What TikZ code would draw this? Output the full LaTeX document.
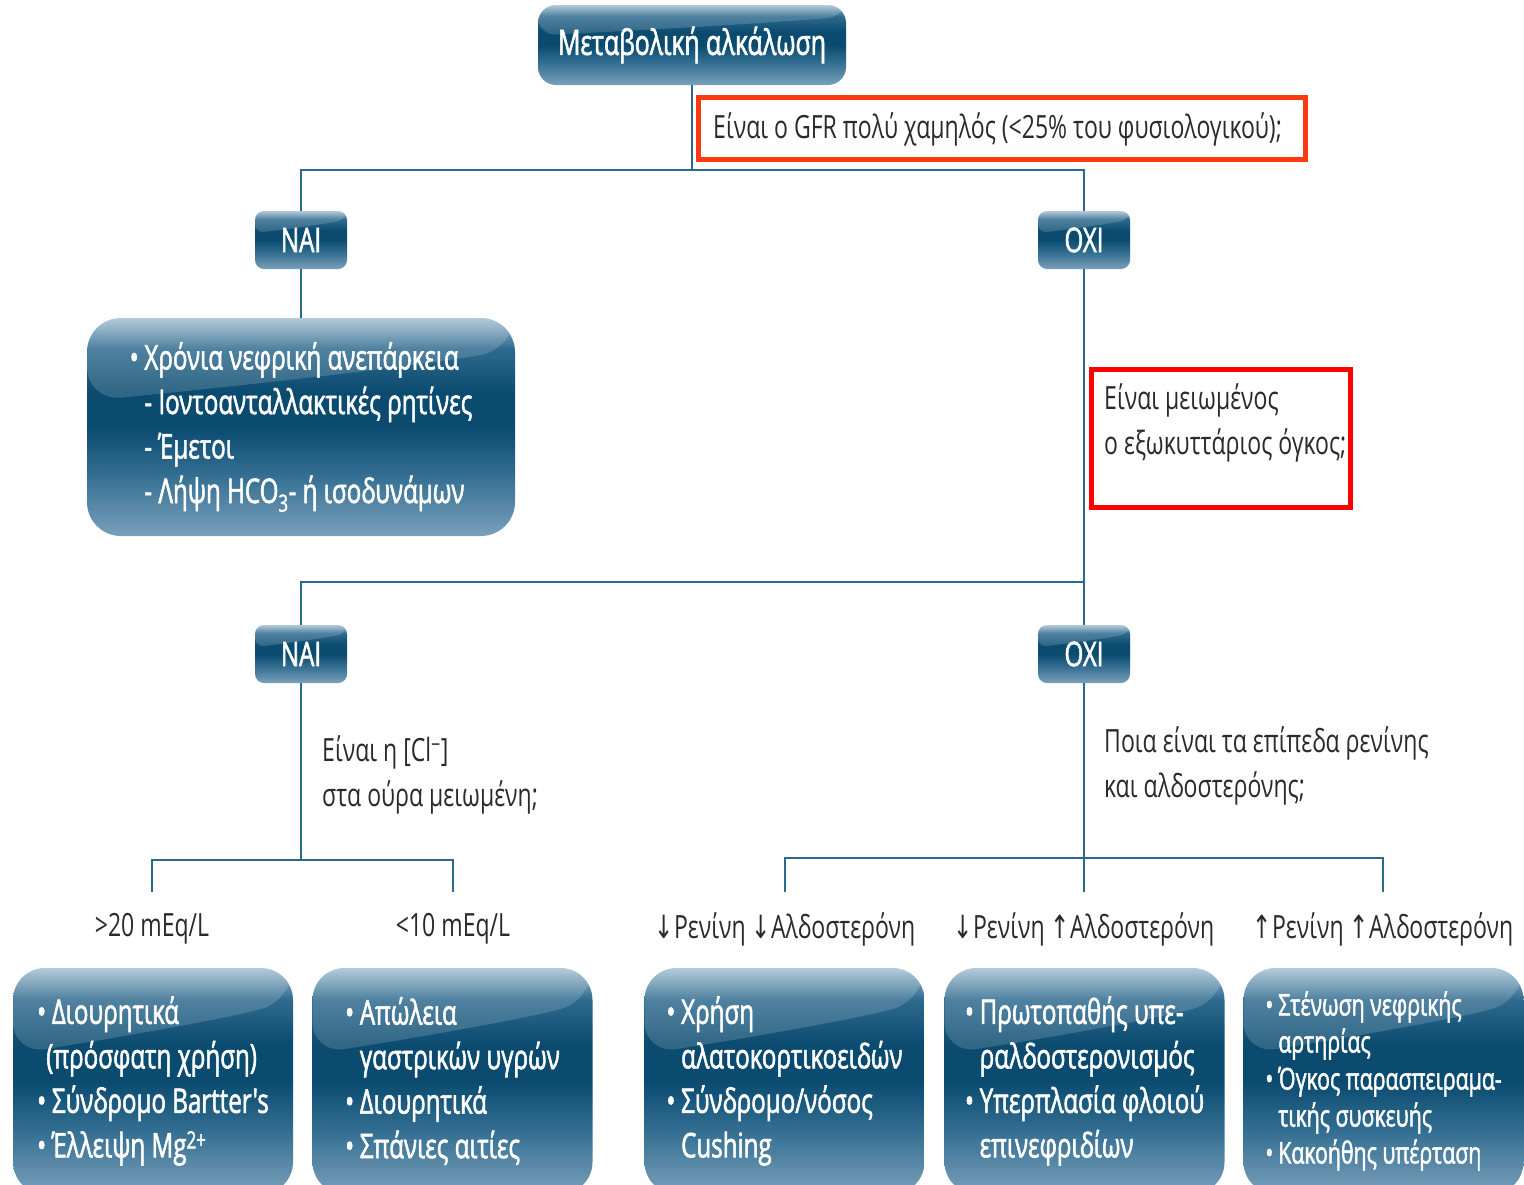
\documentclass[tikz,border=0pt]{standalone}
\usepackage{fontspec}
\setmainfont{Open Sans}[FakeStretch=0.72]
\newfontfamily\boxfont{Open Sans}[FakeStretch=0.71,FakeBold=1.6]
\newfontfamily\arrowfont{DejaVu Sans}[FakeStretch=0.72]
\usetikzlibrary{calc}
\definecolor{conn}{HTML}{2B6A8D}
\definecolor{qtext}{HTML}{2A2A2A}
\definecolor{redA}{HTML}{FF3A10}
\definecolor{redB}{HTML}{FF0000}
\definecolor{sb}{HTML}{7AA0BA}
\definecolor{s1}{HTML}{2F6B8F}
\definecolor{sd}{HTML}{0A4B6F}
\definecolor{s3}{HTML}{2E6A8E}
\definecolor{st}{HTML}{A6C1D4}
\pgfdeclareverticalshading{boxshade}{100bp}{color(0bp)=(sb); color(25bp)=(sb); color(40bp)=(s1); color(50bp)=(sd); color(58bp)=(sd); color(68bp)=(s3); color(75bp)=(st); color(100bp)=(st)}
\begin{document}
\begin{tikzpicture}[x=1pt,y=-1pt,
  conn/.style={draw=conn,line width=2.4pt},
  gbox/.style={shading=boxshade,text=white,align=left,inner sep=0pt,
    path picture={
      \fill[white,fill opacity=0.16] (path picture bounding box.north west)
        -- ($(path picture bounding box.north west)!0.38!(path picture bounding box.south west)$)
        .. controls ($(path picture bounding box.north west)!0.32!(path picture bounding box.south east)$)
        and ($(path picture bounding box.north east)!0.22!(path picture bounding box.south west)$)
        .. ($(path picture bounding box.north east)!0.14!(path picture bounding box.south east)$)
        -- (path picture bounding box.north east) -- cycle;}},
  smallbox/.style={gbox,rounded corners=9pt,minimum width=92pt,minimum height=58pt,font=\boxfont\fontsize{34}{40}\selectfont},
  bigbox/.style={gbox,rounded corners=32pt,minimum width=280pt,minimum height=226pt,font=\boxfont\fontsize{34}{44.5}\selectfont},
  qlabel/.style={text=qtext,align=left,inner sep=6pt,font=\fontsize{32}{45}\selectfont},
  vlabel/.style={text=qtext,inner sep=0pt,font=\fontsize{32}{40}\selectfont},
  redbox/.style={line width=5pt,inner sep=0pt}
]
\path[use as bounding box,fill=white] (0,0) rectangle (1524,1184);

% top
\node[gbox,rounded corners=18pt,minimum width=308pt,minimum height=80pt,font=\boxfont\fontsize{35}{40}\selectfont] (title) at (692,45) {Μεταβολική αλκάλωση};
\node[redbox,draw=redA,minimum width=607pt,minimum height=62pt] (q1box) at (1001.5,128) {};
\node[qlabel,anchor=west] (q1) at (707,129) {Είναι ο GFR πολύ χαμηλός (<25\% του φυσιολογικού);};

\node[smallbox] (nai1) at (301,240) {ΝΑΙ};
\node[smallbox] (oxi1) at (1084,240) {ΟΧΙ};

\node[gbox,rounded corners=34pt,minimum width=428pt,minimum height=218pt,font=\boxfont\fontsize{34}{44.5}\selectfont] (ckd) at (301,427)
  {•\,Χρόνια νεφρική ανεπάρκεια\\
   \hphantom{•\,}- Ιοντοανταλλακτικές ρητίνες\\
   \hphantom{•\,}- Έμετοι\\
   \hphantom{•\,}- Λήψη HCO\textsubscript{3}- ή ισοδυνάμων};

\node[redbox,draw=redB,minimum width=259pt,minimum height=138pt] (q2box) at (1220.5,438) {};
\node[qlabel,anchor=west] (q2) at (1098,423) {Είναι μειωμένος\\ο εξωκυττάριος όγκος;};

\node[smallbox] (nai2) at (301,654) {ΝΑΙ};
\node[smallbox] (oxi2) at (1084,654) {ΟΧΙ};

\node[qlabel,anchor=west] (q3) at (316,775) {Είναι η [Cl\textsuperscript{−}]\\στα ούρα μειωμένη;};
\node[qlabel,anchor=west] (q4) at (1098,766) {Ποια είναι τα επίπεδα ρενίνης\\και αλδοστερόνης;};

% value labels
\coordinate (e1) at (152,892);
\coordinate (e2) at (453,892);
\coordinate (e3) at (785,892);
\coordinate (e4) at (1084,892);
\coordinate (e5) at (1383,892);
\node[vlabel] (v1) at (152,929) {>20 mEq/L};
\node[vlabel] (v2) at (453,929) {<10 mEq/L};
\node[vlabel] (v3) at (785,929) {{\arrowfont ↓}Ρενίνη {\arrowfont ↓}Αλδοστερόνη};
\node[vlabel] (v4) at (1084,929) {{\arrowfont ↓}Ρενίνη {\arrowfont ↑}Αλδοστερόνη};
\node[vlabel] (v5) at (1383,929) {{\arrowfont ↑}Ρενίνη {\arrowfont ↑}Αλδοστερόνη};

% bottom boxes
\node[bigbox] (b1) at (153,1081) {•\,Διουρητικά\\ \hphantom{•}(πρόσφατη χρήση)\\ •\,Σύνδρομο Bartter's\\ •\,Έλλειψη Mg\textsuperscript{2+}};
\node[bigbox] (b2) at (452.5,1081) {•\,Απώλεια\\ \hphantom{•\,}γαστρικών υγρών\\ •\,Διουρητικά\\ •\,Σπάνιες αιτίες};
\node[bigbox] (b3) at (784.5,1081) {•\,Χρήση\\ \hphantom{•\,}αλατοκορτικοειδών\\ •\,Σύνδρομο/νόσος\\ \hphantom{•\,}Cushing};
\node[bigbox] (b4) at (1084.5,1081) {•\,Πρωτοπαθής υπε-\\ \hphantom{•\,}ραλδοστερονισμός\\ •\,Υπερπλασία φλοιού\\ \hphantom{•\,}επινεφριδίων};
\node[bigbox,font=\boxfont\fontsize{30}{37}\selectfont] (b5) at (1383.5,1081) {•\,Στένωση νεφρικής\\ \hphantom{•\,}αρτηρίας\\ •\,Όγκος παρασπειραμα-\\ \hphantom{•\,}τικής συσκευής\\ •\,Κακοήθης υπέρταση};

% connectors
\draw[conn] (title.south) -- (title.south |- 0,170);
\draw[conn] (nai1.north) -- (nai1.north |- 0,170) -- (oxi1.north |- 0,170) -- (oxi1.north);
\draw[conn] (nai1.south) -- (ckd.north);
\draw[conn] (oxi1.south) -- (oxi2.north);
\draw[conn] (nai2.north) -- (nai2.north |- 0,582) -- (oxi2.north |- 0,582);
\draw[conn] (nai2.south) -- (nai2.south |- 0,860);
\draw[conn] (e1) -- (e1 |- 0,860) -- (e2 |- 0,860) -- (e2);
\draw[conn] (oxi2.south) -- (e4);
\draw[conn] (e3) -- (e3 |- 0,858) -- (e5 |- 0,858) -- (e5);
\end{tikzpicture}
\end{document}
